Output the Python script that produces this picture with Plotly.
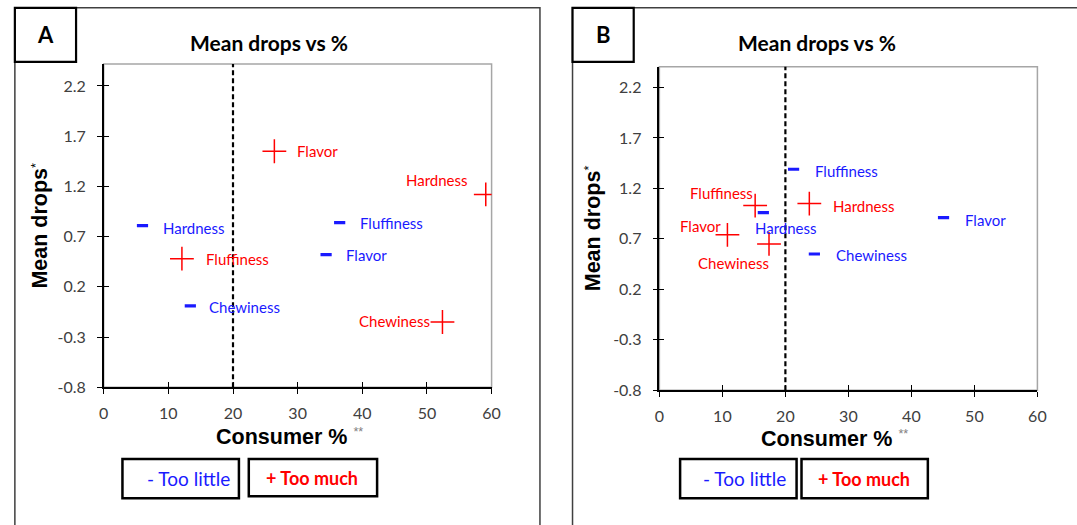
import plotly.graph_objects as go

# ---------------- data ----------------
X_TICKS = [0, 10, 20, 30, 40, 50, 60]
Y_TICKS = [-0.8, -0.3, 0.2, 0.7, 1.2, 1.7, 2.2]
Y_TICK_LABELS = ["-0.8", "-0.3", "0.2", "0.7", "1.2", "1.7", "2.2"]
THRESHOLD = 20

A_MUCH_ATTR = ["Flavor", "Hardness", "Fluffiness", "Chewiness"]
A_MUCH_PCT = [26.4, 59.1, 12.1, 52.4]
A_MUCH_DROP = [1.55, 1.12, 0.48, -0.15]

A_LITTLE_ATTR = ["Hardness", "Fluffiness", "Flavor", "Chewiness"]
A_LITTLE_PCT = [6.0, 36.5, 34.4, 13.4]
A_LITTLE_DROP = [0.81, 0.84, 0.52, 0.01]

B_MUCH_ATTR = ["Fluffiness", "Flavor", "Chewiness", "Hardness"]
B_MUCH_PCT = [15.2, 10.8, 17.4, 23.8]
B_MUCH_DROP = [1.03, 0.74, 0.65, 1.05]

B_LITTLE_ATTR = ["Fluffiness", "Hardness", "Flavor", "Chewiness"]
B_LITTLE_PCT = [21.3, 16.5, 45.1, 24.6]
B_LITTLE_DROP = [1.39, 0.96, 0.91, 0.55]

PANEL_LABELS = ["A", "B"]
TITLE = "Mean drops vs %"
X_TITLE = "Consumer % "
Y_TITLE = "Mean drops"
LEGEND_LITTLE = "- Too little"
LEGEND_MUCH = "+ Too much"

# ---------------- styles / layout ----------------
W, H = 1077, 525
RED = "#ff0000"
BLUE = "#1a1aff"
TICK_COLOR = "#404040"
LABEL_FONT = dict(family="Lato, sans-serif", size=15)

# per-label placement: (xanchor, xshift, yshift)
LABEL_STYLE = {
    ("A", "much"): {"Flavor": ("left", 21, 0), "Hardness": ("right", -16, 14),
                    "Fluffiness": ("left", 22, 0), "Chewiness": ("right", -10, 1)},
    ("A", "little"): {"Hardness": ("left", 19, -2), "Fluffiness": ("left", 18, 0),
                      "Flavor": ("left", 18, 0), "Chewiness": ("left", 17, -1)},
    ("B", "much"): {"Fluffiness": ("right", 0, 13), "Flavor": ("right", -4, 9),
                    "Chewiness": ("right", 2, -19), "Hardness": ("left", 22, -2)},
    ("B", "little"): {"Fluffiness": ("left", 19, -2), "Hardness": ("center", 23, -15),
                      "Flavor": ("left", 19, -2), "Chewiness": ("left", 20, -1)},
}


def px(x):
    return x / W


def py(y):
    return 1 - y / H


PANELS = {
    "A": dict(xd=(100, 493), yd=(394, 65), yr=(-0.8, 2.42), ax="", frame=(10, 8, 542, 540),
              badge=(10, 8, 72, 63), title=(267, 43), xt=(288, 445), yt=(36, 230),
              leg1=(119, 467, 237, 507), leg2=(247, 467, 377, 505), t1=186, t2=311),
    "B": dict(xd=(663, 1046), yd=(397, 68), yr=(-0.8, 2.405), ax="2", frame=(575, 8, 1090, 540),
              badge=(575, 8, 637, 63), title=(823, 43), xt=(840, 447), yt=(596, 232),
              leg1=(684, 467, 802, 507), leg2=(807, 467, 935, 507), t1=749, t2=870),
}

DATA = {
    ("A", "much"): (A_MUCH_ATTR, A_MUCH_PCT, A_MUCH_DROP),
    ("A", "little"): (A_LITTLE_ATTR, A_LITTLE_PCT, A_LITTLE_DROP),
    ("B", "much"): (B_MUCH_ATTR, B_MUCH_PCT, B_MUCH_DROP),
    ("B", "little"): (B_LITTLE_ATTR, B_LITTLE_PCT, B_LITTLE_DROP),
}

fig = go.Figure()
shapes = []
annotations = []
layout_axes = {}


def paper_text(x, y, text, font, **kw):
    d = dict(xref="paper", yref="paper", x=px(x), y=py(y), text=text, showarrow=False,
             xanchor="center", yanchor="middle", font=font)
    d.update(kw)
    return d


for i, pname in enumerate(PANEL_LABELS):
    p = PANELS[pname]
    ax = p["ax"]
    xref = "x" + ax
    yref = "y" + ax
    ox = str(3 + i * 2)
    oy = str(4 + i * 2)

    common_font = dict(family="Lato, sans-serif", size=16, color=TICK_COLOR)
    layout_axes["xaxis" + ax] = dict(
        domain=[px(p["xd"][0]), px(p["xd"][1])], range=[0, 60], anchor=yref,
        tickmode="array", tickvals=X_TICKS, ticktext=[str(v) for v in X_TICKS],
        ticks="outside", ticklen=5, tickwidth=1.3, tickcolor="black",
        showline=True, linecolor="black", linewidth=1.5,
        showgrid=False, zeroline=False, tickfont=common_font,
        ticklabelstandoff=6, fixedrange=True)
    layout_axes["yaxis" + ax] = dict(
        domain=[py(p["yd"][0]), py(p["yd"][1])], range=list(p["yr"]), anchor=xref,
        tickmode="array", tickvals=Y_TICKS, ticktext=Y_TICK_LABELS,
        ticks="outside", ticklen=5, tickwidth=1.3, tickcolor="black",
        showline=True, linecolor="black", linewidth=1.5,
        showgrid=False, zeroline=False, tickfont=common_font,
        ticklabelstandoff=8, fixedrange=True)
    # overlay axes to draw the inner half of the crossing ticks
    layout_axes["xaxis" + ox] = dict(
        domain=[px(p["xd"][0]), px(p["xd"][1])], range=[0, 60], anchor="y" + oy,
        overlaying=xref, tickmode="array", tickvals=X_TICKS, ticks="inside",
        ticklen=5, tickwidth=1.3, tickcolor="black", showticklabels=False,
        showline=False, showgrid=False, zeroline=False, fixedrange=True)
    layout_axes["yaxis" + oy] = dict(
        domain=[py(p["yd"][0]), py(p["yd"][1])], range=list(p["yr"]), anchor="x" + ox,
        overlaying=yref, tickmode="array", tickvals=Y_TICKS, ticks="inside",
        ticklen=5, tickwidth=1.3, tickcolor="black", showticklabels=False,
        showline=False, showgrid=False, zeroline=False, fixedrange=True)
    fig.add_trace(go.Scatter(x=[None], y=[None], xaxis="x" + ox, yaxis="y" + oy,
                             showlegend=False, hoverinfo="skip"))

    # plot frame (gray top/right)
    shapes.append(dict(type="rect", xref=xref + " domain", yref=yref + " domain",
                       x0=0, x1=1, y0=0, y1=1, line=dict(color="#a6a6a6", width=1.5),
                       layer="below"))
    # threshold dashed line
    shapes.append(dict(type="line", xref=xref, yref=yref + " domain", x0=THRESHOLD,
                       x1=THRESHOLD, y0=0, y1=1,
                       line=dict(color="black", width=2.2, dash="5px,3px")))

    # outer panel frame
    fx0, fy0, fx1, fy1 = p["frame"]
    shapes.append(dict(type="rect", xref="paper", yref="paper", x0=px(fx0), x1=px(fx1),
                       y0=py(fy1), y1=py(fy0), line=dict(color="#404040", width=1.5)))
    # badge box
    bx0, by0, bx1, by1 = p["badge"]
    shapes.append(dict(type="rect", xref="paper", yref="paper", x0=px(bx0), x1=px(bx1),
                       y0=py(by1), y1=py(by0), line=dict(color="black", width=2.2),
                       fillcolor="white"))
    annotations.append(paper_text((bx0 + bx1) / 2, (by0 + by1) / 2, "<b>%s</b>" % pname,
                                  dict(family="Lato, sans-serif", size=22, color="black")))
    # chart title
    annotations.append(paper_text(p["title"][0], p["title"][1], "<b>%s</b>" % TITLE,
                                  dict(family="Lato, sans-serif", size=21, color="black")))
    # axis titles
    annotations.append(paper_text(
        p["xt"][0], p["xt"][1],
        "<b>%s</b><span style='color:#7f7f7f;font-size:18px'><sup>**</sup></span>" % X_TITLE,
        dict(family="Liberation Sans, Arial, sans-serif", size=21.5, color="black")))
    annotations.append(paper_text(
        p["yt"][0], p["yt"][1],
        "<b>%s</b><span style='font-size:18px'><sup>*</sup></span>" % Y_TITLE,
        dict(family="Liberation Sans, Arial, sans-serif", size=21.5, color="black"),
        textangle=-90))
    # legend boxes
    for key, color, txt, cx in (("leg1", BLUE, LEGEND_LITTLE, p["t1"]),
                                ("leg2", RED, LEGEND_MUCH, p["t2"])):
        lx0, ly0, lx1, ly1 = p[key]
        shapes.append(dict(type="rect", xref="paper", yref="paper", x0=px(lx0), x1=px(lx1),
                           y0=py(ly1), y1=py(ly0), line=dict(color="black", width=2.5)))
        if key == "leg1":
            tfont = dict(family="Lato, sans-serif", size=19, color=color)
            ttxt = txt
        else:
            tfont = dict(family="Lato, sans-serif", size=18, color=color)
            ttxt = "<b>%s</b>" % txt
        annotations.append(paper_text(cx, (ly0 + ly1) / 2, ttxt, tfont))

    # data series
    for series, color, symbol, size, lw in (("much", RED, "cross-thin", 17, 1.5),
                                            ("little", BLUE, "line-ew", 8, 3.2)):
        attrs, pct, drop = DATA[(pname, series)]
        fig.add_trace(go.Scatter(
            x=pct, y=drop, mode="markers", xaxis=xref, yaxis=yref,
            marker=dict(symbol=symbol, size=size, color=color,
                        line=dict(color=color, width=lw)),
            showlegend=False, hoverinfo="skip"))
        style = LABEL_STYLE[(pname, series)]
        for a, xv, yv in zip(attrs, pct, drop):
            xa, xs, ys = style[a]
            annotations.append(dict(xref=xref, yref=yref, x=xv, y=yv, text=a,
                                    showarrow=False, xanchor=xa, yanchor="middle",
                                    xshift=xs, yshift=ys,
                                    font=dict(color=color, **LABEL_FONT)))

fig.update_layout(
    width=W, height=H, margin=dict(l=0, r=0, t=0, b=0),
    paper_bgcolor="white", plot_bgcolor="white",
    shapes=shapes, annotations=annotations, showlegend=False,
    **layout_axes)

fig.write_html("out.html", config={"displayModeBar": False},
               post_script="document.body.style.margin='0';"
                           "document.body.style.overflow='hidden';")
